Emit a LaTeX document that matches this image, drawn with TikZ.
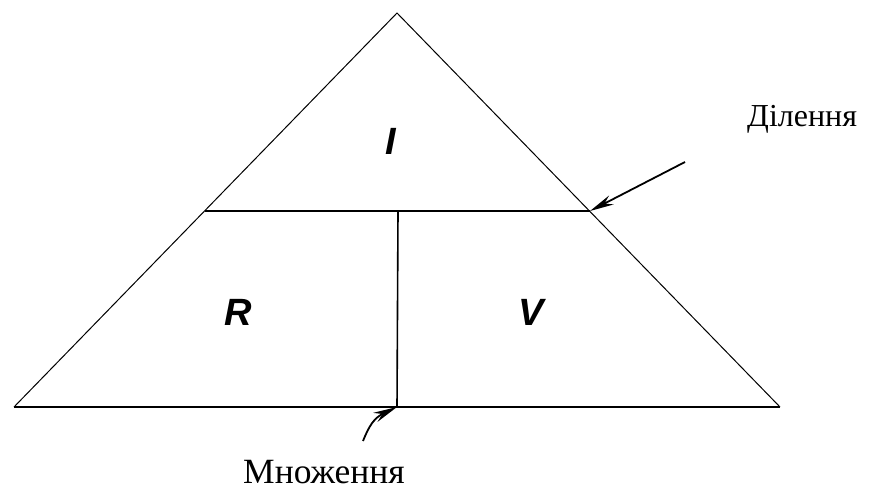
\documentclass[tikz,border=0pt]{standalone}
\usepackage{fontspec}
\setmainfont{Liberation Serif}
\newfontfamily\lblfont{Liberation Sans}
\usetikzlibrary{arrows.meta}
\tikzset{
  sideline/.style={line width=1pt},
  baseline/.style={line width=2pt},
  innerline/.style={line width=1.6pt},
  lbl/.style={font=\lblfont\bfseries\itshape\fontsize{38}{38}\selectfont, inner sep=0pt, anchor=base},
  wordlbl/.style={font=\fontsize{33}{33}\selectfont, inner sep=0pt, anchor=base west},
  pointer/.style={line width=1.8pt, -{Stealth[length=24pt,width=10pt]}}
}
\begin{document}
\begin{tikzpicture}[x=1pt,y=-1pt]
\useasboundingbox (0,0) rectangle (874,489);
\coordinate (A) at (397,13);
\coordinate (BL) at (14,407);
\coordinate (BR) at (780,407);
\coordinate (ML) at (205,211);
\coordinate (MR) at (590,211);
\coordinate (MT) at (398,211);
\coordinate (MB) at (397,407);
\draw[sideline] (BL) -- (A) -- (BR);
\draw[baseline] (BL) -- (BR);
\draw[innerline] (ML) -- (MR);
\draw[innerline] (MT) -- (MB);
\node[lbl] (I) at (391,154) {I};
\node[lbl] (R) at (238,325) {R};
\node[lbl] (V) at (531,325) {V};
\node[wordlbl, font=\fontsize{32}{32}\selectfont] (div) at (747,127) {Ділення};
\node[wordlbl, font=\fontsize{35.5}{35.5}\selectfont, text depth=0pt] (mul) at (243,483) {Множення};
\coordinate (t1) at (685,162);
\coordinate (t2) at (363,441);
\draw[pointer] (t1) -- (MR);
\draw[pointer] (t2) .. controls (369,426) and (374,418) .. (MB);
\end{tikzpicture}
\end{document}
